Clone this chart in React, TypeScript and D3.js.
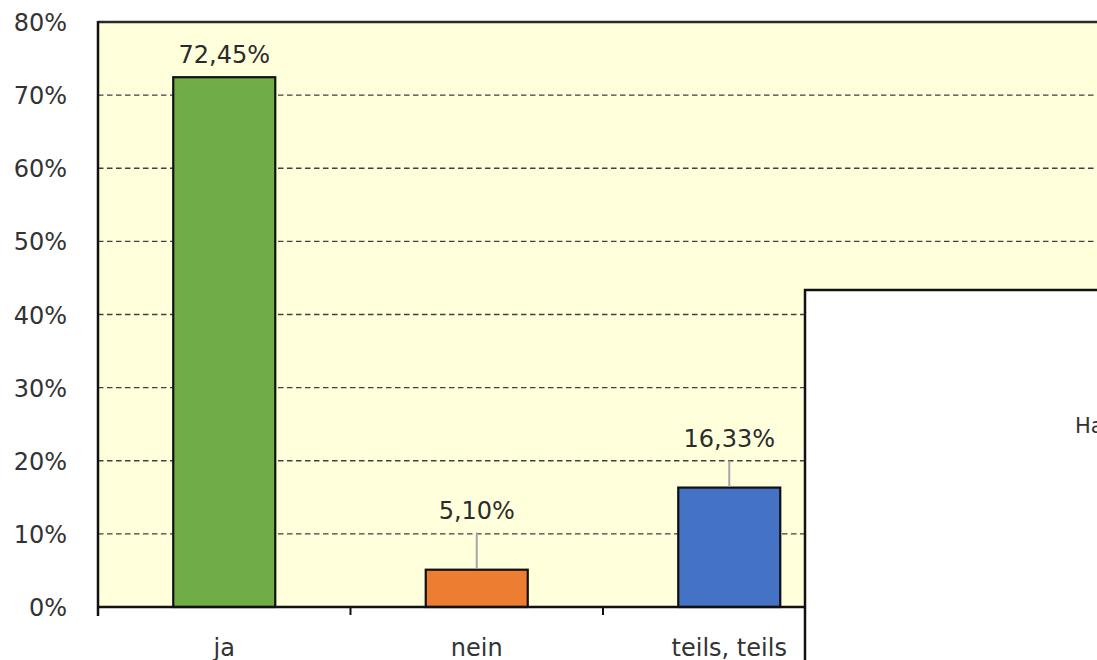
import React, { useRef, useEffect } from 'react';
import * as d3 from 'd3';

const categories = ['ja', 'nein', 'teils, teils', 'keine Angabe'];
const values = [72.45, 5.1, 16.33, 6.12];
const barColors = ['#70AD47', '#ED7D31', '#4472C4', '#A5A5A5'];
const labelLift = [0, 7, 5.6, 0];
const yTicks = [0, 10, 20, 30, 40, 50, 60, 70, 80];

const W = 1097;
const H = 660;
const FONT = '"DejaVu Sans", "Noto Sans", sans-serif';

const App = () => {
  const svgRef = useRef<SVGSVGElement | null>(null);

  useEffect(() => {
    const svg = d3.select(svgRef.current);
    svg.selectAll('*').remove();

    const left = 98;
    const top = 22;
    const bottom = 607;
    const bandW = 252.5;

    const x = d3.scaleBand<string>()
      .domain(categories)
      .range([left, left + bandW * categories.length])
      .paddingInner(0.596)
      .paddingOuter(0.298);

    const y = d3.scaleLinear().domain([0, 80]).range([bottom, top]);

    const fmt = (v: number) => v.toFixed(2).replace('.', ',') + '%';

    // plot background
    svg.append('rect')
      .attr('x', left).attr('y', top)
      .attr('width', W - left + 20).attr('height', bottom - top)
      .attr('fill', '#FFFFDB');

    // grid
    svg.append('g')
      .selectAll('line')
      .data(yTicks.filter(t => t > 0 && t < 80))
      .join('line')
      .attr('x1', left).attr('x2', W)
      .attr('y1', d => y(d)).attr('y2', d => y(d))
      .attr('stroke', '#404040')
      .attr('stroke-width', 1.3)
      .attr('stroke-dasharray', '5.5,3.5');

    // top border
    svg.append('line')
      .attr('x1', left).attr('x2', W)
      .attr('y1', top).attr('y2', top)
      .attr('stroke', '#2a2a2a').attr('stroke-width', 2.5);

    // bars
    svg.append('g')
      .selectAll('rect')
      .data(values)
      .join('rect')
      .attr('x', (d, i) => x(categories[i])!)
      .attr('y', d => y(d))
      .attr('width', x.bandwidth())
      .attr('height', d => bottom - y(d))
      .attr('fill', (d, i) => barColors[i])
      .attr('stroke', '#111')
      .attr('stroke-width', 2.2);

    // leader lines
    values.forEach((v, i) => {
      if (labelLift[i] > 0) {
        const cx = x(categories[i])! + x.bandwidth() / 2;
        svg.append('line')
          .attr('x1', cx).attr('x2', cx)
          .attr('y1', y(v + labelLift[i]) + 14).attr('y2', y(v) - 1)
          .attr('stroke', '#A6A6A6').attr('stroke-width', 2);
      }
    });

    // data labels
    svg.append('g')
      .selectAll('text')
      .data(values)
      .join('text')
      .attr('x', (d, i) => x(categories[i])! + x.bandwidth() / 2)
      .attr('y', (d, i) => labelLift[i] > 0 ? y(d + labelLift[i]) : y(d) - 14)
      .attr('text-anchor', 'middle')
      .attr('font-family', FONT)
      .attr('font-size', 24)
      .attr('fill', '#2b2b2b')
      .text(d => fmt(d));

    // y axis
    svg.append('line')
      .attr('x1', left).attr('x2', left)
      .attr('y1', top - 1).attr('y2', bottom + 9)
      .attr('stroke', '#111').attr('stroke-width', 2.5);

    svg.append('g')
      .selectAll('text')
      .data(yTicks)
      .join('text')
      .attr('x', 67)
      .attr('y', d => y(d) + 9)
      .attr('text-anchor', 'end')
      .attr('font-family', FONT)
      .attr('font-size', 24)
      .attr('fill', '#333')
      .text(d => d + '%');

    // x axis
    svg.append('line')
      .attr('x1', left).attr('x2', W)
      .attr('y1', bottom).attr('y2', bottom)
      .attr('stroke', '#111').attr('stroke-width', 2.5);

    svg.append('g')
      .selectAll('line')
      .data(categories.slice(1))
      .join('line')
      .attr('x1', d => x(d)! - x.step() * x.paddingOuter())
      .attr('x2', d => x(d)! - x.step() * x.paddingOuter())
      .attr('y1', bottom).attr('y2', bottom + 8)
      .attr('stroke', '#111').attr('stroke-width', 2);

    svg.append('g')
      .selectAll('text')
      .data(categories)
      .join('text')
      .attr('x', d => x(d)! + x.bandwidth() / 2)
      .attr('y', 656)
      .attr('text-anchor', 'middle')
      .attr('font-family', FONT)
      .attr('font-size', 24)
      .attr('fill', '#333')
      .text(d => d);

    // overlapping white panel
    svg.append('rect')
      .attr('x', 805).attr('y', 290)
      .attr('width', 320).attr('height', 400)
      .attr('fill', '#fff')
      .attr('stroke', '#111').attr('stroke-width', 2.5);

    svg.append('text')
      .attr('x', 1075).attr('y', 433)
      .attr('font-family', FONT)
      .attr('font-size', 21)
      .attr('fill', '#333')
      .text('Ha');
  }, []);

  return (
    <svg
      ref={svgRef}
      width={W}
      height={H}
      style={{ position: 'fixed', left: 0, top: 0, background: '#fff' }}
    />
  );
};

export default App;
